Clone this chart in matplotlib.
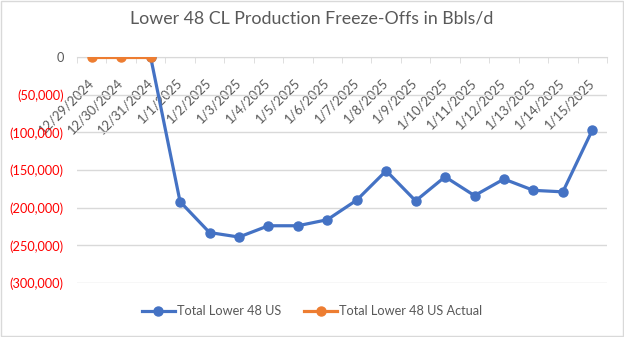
import matplotlib
matplotlib.use("Agg")
import matplotlib.pyplot as plt
import numpy as np
from matplotlib.patches import Rectangle
from matplotlib.ticker import FuncFormatter

dates = ["12/29/2024", "12/30/2024", "12/31/2024", "1/1/2025", "1/2/2025", "1/3/2025",
         "1/4/2025", "1/5/2025", "1/6/2025", "1/7/2025", "1/8/2025", "1/9/2025",
         "1/10/2025", "1/11/2025", "1/12/2025", "1/13/2025", "1/14/2025", "1/15/2025"]
total_us = [np.nan, np.nan, 0, -192000, -233000, -239000, -224000, -224000, -216000,
            -190000, -151000, -191000, -159000, -184000, -162000, -177000, -179000, -97000]
total_actual = [0, 0, 0] + [np.nan] * 15

BLUE = "#4472C4"
ORANGE = "#ED7D31"
GRAY = "#595959"
GRID = "#D9D9D9"

plt.rcParams["font.family"] = ["Lato", "DejaVu Sans"]

fig = plt.figure(figsize=(6.24, 3.37), dpi=100)
ax = fig.add_axes([0.1234, 0.1602, 0.8494, 0.6707])
fig.patches.append(Rectangle((0.001, 0.002), 0.997, 0.995, transform=fig.transFigure,
                             fill=False, edgecolor="#D9D9D9", linewidth=1.0))

x = np.arange(len(dates))
ax.plot(x, total_us, color=BLUE, linewidth=2.3, marker="o", markersize=6.5,
        label="Total Lower 48 US", zorder=3)
ax.plot(x, total_actual, color=ORANGE, linewidth=2.3, marker="o", markersize=6.5,
        label="Total Lower 48 US Actual", zorder=4)

ax.set_xlim(-0.5, len(dates) - 0.5)
ax.set_ylim(-300000, 0)
ax.set_yticks(np.arange(-300000, 1, 50000))


def fmt(v, pos):
    if v == 0:
        return "0"
    return f"({abs(v):,.0f})"


ax.yaxis.set_major_formatter(FuncFormatter(fmt))
for lab, v in zip(ax.get_yticklabels(), ax.get_yticks()):
    lab.set_color(GRAY if v == 0 else "#FF0000")
ax.tick_params(axis="y", length=0, labelsize=9.2, pad=9.5)

ax.grid(axis="y", color=GRID, linewidth=1.0)
ax.set_axisbelow(True)
for s in ["top", "right", "left"]:
    ax.spines[s].set_visible(False)
ax.spines["bottom"].set_position(("data", 0))
ax.spines["bottom"].set_color(GRID)
ax.spines["bottom"].set_zorder(2)

ax.set_xticks(x)
ax.set_xticklabels(dates, rotation=45, ha="right", va="center", rotation_mode="anchor",
                   color=GRAY, fontsize=9.4)
ax.set_xticks(np.arange(-0.5, len(dates), 1), minor=True)
ax.tick_params(axis="x", which="major", length=0, pad=17)
ax.tick_params(axis="x", which="minor", length=4, color=GRID)

fig.suptitle("Lower 48 CL Production Freeze-Offs in Bbls/d", y=0.97, color=GRAY,
             fontsize=12.8)

fig.legend(loc="lower center", bbox_to_anchor=(0.5, 0.025), ncol=2, frameon=False,
           fontsize=9.2, labelcolor=GRAY, handlelength=2.6, columnspacing=1.8,
           handletextpad=0.15)

fig.savefig("out.png", dpi=100)
